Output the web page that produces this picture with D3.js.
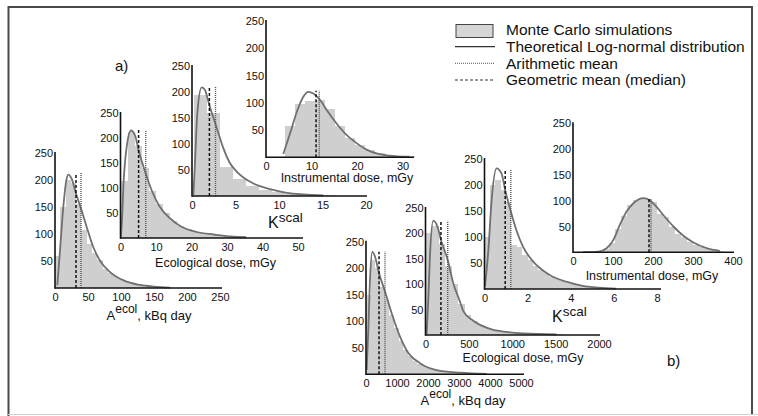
<!DOCTYPE html>
<html><head><meta charset="utf-8">
<script src="https://cdn.jsdelivr.net/npm/d3@7/dist/d3.min.js"></script>
<style>
body{margin:0;background:#fff}
svg{display:block}
text{font-family:Arial,"Liberation Sans",sans-serif;fill:#111}
</style>
</head><body>
<svg id="chart" width="758" height="416"></svg>
<script>
// ---------------- DATA ----------------
const yTickValues = [50, 100, 150, 200, 250];

// a) panels
const a1XTicks = [0, 50, 100, 150, 200, 250];
const a1Bins = {start: 0, width: 8};
const a1Counts = [60, 150, 200, 195, 155, 108, 82, 64, 52, 36, 28, 22, 16, 13, 9, 7, 5, 4, 3, 2, 2, 1];
const a1Curve = [[3.5,5],[7.6,70],[12.6,150],[16.7,196],[20.2,210],[25.3,202],[31.8,175],[39.4,147],[48,113],[58,76],[68,51],[83,30],[104,14],[129,5.6],[150,2.5],[174,0.6]];
const a1Means = {geometric: 31.8, arithmetic: 39.4, top: 213};

const a2XTicks = [0, 10, 20, 30, 40, 50];
const a2Bins = {start: 0, width: 2};
const a2Counts = [115, 212, 185, 140, 95, 68, 50, 34, 25, 18, 13, 10, 8, 6, 4, 3, 2, 1];
const a2Curve = [[0.1,2],[0.45,40],[0.85,109],[1.74,182],[2.96,215],[4.1,205],[5.12,175],[7.1,129],[8.8,95],[11.1,62],[14,39],[16.8,24],[21.5,12],[26.3,7],[31,3],[35.4,1.5]];
const a2Means = {geometric: 5.1, arithmetic: 7.1, top: 216};

const a3XTicks = [0, 5, 10, 15, 20];
const a3Bins = {start: 0.2, width: 1.5};
const a3Counts = [195, 160, 55, 33, 20, 12, 7, 4, 3, 2, 1];
const a3Curve = [[0.16,2],[0.34,63],[0.61,159],[1.11,209],[1.49,204],[1.99,175],[2.72,137],[3.22,111],[3.6,92],[4.3,65],[5.14,47],[7.05,24],[8.97,13],[10.9,6],[12.8,3],[15.1,1]];
const a3Means = {geometric: 2.0, arithmetic: 2.7, top: 210};

const a4XTicks = [0, 10, 20, 30];
const a4Bins = {start: 4.2, width: 2.2};
const a4Counts = [57, 98, 104, 106, 88, 57, 36, 22, 13, 8, 5, 3, 1.5];
const a4Curve = [[3.8,6],[5.3,44],[6.8,84],[8.2,111],[9.3,120],[10.4,117],[11.9,105],[13.3,87],[15.5,62],[17.7,41],[19.9,26],[22.1,14],[24.3,7],[27,3],[31.5,1]];
const a4Means = {geometric: 11.0, arithmetic: 11.7, top: 122};

// b) panels
const b1XTicks = [0, 1000, 2000, 3000, 4000, 5000];
const b1Bins = {start: 0, width: 150};
const b1Counts = [150, 215, 200, 165, 140, 112, 88, 62, 45, 34, 26, 20, 15, 12, 9, 7, 6, 5, 4, 3, 2, 2, 1, 1, 1];
const b1Curve = [[21,8],[75,84],[129,178],[204,231],[290,222],[419,191],[613,156],[828,115],[1097,71],[1312,45],[1742,21],[2280,8],[3030,3],[3890,0.6]];
const b1Means = {geometric: 420, arithmetic: 613, top: 231};

const b2XTicks = [0, 500, 1000, 1500, 2000];
const b2Bins = {start: 0, width: 75};
const b2Counts = [200, 215, 180, 135, 100, 62, 40, 28, 20, 14, 10, 8, 6, 5, 4, 3, 3, 2, 2, 1, 1];
const b2Curve = [[13,2],[32,69],[51,154],[90,225],[140,212],[178,187],[255,148],[320,102],[397,66],[436,47],[551,28],[743,12],[935,6],[1127,3],[1511,1]];
const b2Means = {geometric: 178, arithmetic: 256, top: 225};

const b3XTicks = [0, 2, 4, 6, 8];
const b3Bins = {start: 0, width: 0.25};
const b3Counts = [100, 200, 210, 190, 168, 85, 80, 65, 55, 45, 37, 30, 24, 19, 15, 12, 9, 7, 5, 4, 3, 2, 2, 1];
const b3Curve = [[0.02,4.5],[0.18,75],[0.33,171],[0.56,232],[0.79,222],[0.96,190],[1.22,149],[1.48,113],[1.79,81],[2.25,53],[3.02,27],[3.79,14],[4.56,6],[5.33,2.6],[6.1,0.6]];
const b3Means = {geometric: 0.96, arithmetic: 1.22, top: 230};

const b4XTicks = [0, 100, 200, 300, 400];
const b4Bins = {start: 60, width: 15};
const b4Counts = [2, 6, 18, 45, 70, 92, 102, 106, 104, 98, 75, 68, 50, 36, 30, 20, 14, 10, 6, 4, 2];
const b4Curve = [[25,0.3],[63,1.3],[84,7.8],[101,24],[117,53],[134,79],[151,95],[176,105],[192,101],[209,88],[226,72],[251,50],[276,32],[301,19],[334,8],[367,2.6]];
const b4Means = {geometric: 190, arithmetic: 195, top: 104};

const legendItems = ["Monte Carlo simulations", "Theoretical Log-normal distribution", "Arithmetic mean", "Geometric mean (median)"];

// ---------------- LAYOUT / STYLE ----------------
const FILL = "#cfcfcf", CURVE = "#707070";
const svg = d3.select("#chart");

// frame
svg.append("line").attr("x1",8).attr("x2",752).attr("y1",7).attr("y2",7).attr("stroke","#4a4a4a").attr("stroke-width",2);
svg.append("line").attr("x1",8.5).attr("x2",8.5).attr("y1",6).attr("y2",416).attr("stroke","#4a4a4a").attr("stroke-width",2);
svg.append("line").attr("x1",752).attr("x2",752).attr("y1",6).attr("y2",414).attr("stroke","#4a4a4a").attr("stroke-width",2);
svg.append("line").attr("x1",8).attr("x2",758).attr("y1",414.5).attr("y2",414.5).attr("stroke","#cfcfcf").attr("stroke-width",1);

const panels = [
  {ticks:a1XTicks, bins:a1Bins, counts:a1Counts, curve:a1Curve, means:a1Means,
   L:{x0:55, xt:220, xEnd:222, y0:288, yTop:153}, label:{type:"A", x:149, y:320}},
  {ticks:a2XTicks, bins:a2Bins, counts:a2Counts, curve:a2Curve, means:a2Means,
   L:{x0:120.5, xt:298, xEnd:303, y0:238, yTop:113}, label:{type:"text", text:"Ecological dose, mGy", x:215.5, y:267}},
  {ticks:a3XTicks, bins:a3Bins, counts:a3Counts, curve:a3Curve, means:a3Means,
   L:{x0:192, xt:366, xEnd:367, y0:196, yTop:66}, label:{type:"K", x:268, y:228}},
  {ticks:a4XTicks, bins:a4Bins, counts:a4Counts, curve:a4Curve, means:a4Means,
   L:{x0:266, xt:402.5, xEnd:414, y0:157.3, yTop:21}, label:{type:"text", text:"Instrumental dose, mGy", x:347, y:182}},
  {ticks:b1XTicks, bins:b1Bins, counts:b1Counts, curve:b1Curve, means:b1Means,
   L:{x0:366, xt:521, xEnd:524, y0:374.3, yTop:241.7}, label:{type:"A", x:463, y:405}},
  {ticks:b2XTicks, bins:b2Bins, counts:b2Counts, curve:b2Curve, means:b2Means,
   L:{x0:425.5, xt:599, xEnd:600, y0:335, yTop:208}, label:{type:"text", text:"Ecological dose, mGy", x:523, y:361.5}},
  {ticks:b3XTicks, bins:b3Bins, counts:b3Counts, curve:b3Curve, means:b3Means,
   L:{x0:484.5, xt:657, xEnd:661, y0:289, yTop:159}, label:{type:"K", x:552, y:321.5}},
  {ticks:b4XTicks, bins:b4Bins, counts:b4Counts, curve:b4Curve, means:b4Means,
   L:{x0:573, xt:733, xEnd:734, y0:252.3, yTop:123.3}, label:{type:"text", text:"Instrumental dose, mGy", x:652, y:280}}
];

function drawPanel(p) {
  const L = p.L;
  const g = svg.append("g");
  const x = d3.scaleLinear().domain([0, d3.max(p.ticks)]).range([L.x0, L.xt]);
  const y = d3.scaleLinear().domain([0, 250]).range([L.y0, L.yTop]);
  const edge = i => Math.round(x(p.bins.start + i*p.bins.width));

  // histogram bars (pixel-snapped so neighbouring bars abut without seams)
  g.append("g").attr("shape-rendering","crispEdges")
    .selectAll("rect").data(p.counts).join("rect")
    .attr("x", (d,i) => edge(i))
    .attr("width", (d,i) => Math.max(1, edge(i+1) - edge(i)))
    .attr("y", d => Math.round(y(d)))
    .attr("height", d => Math.round(y(0)) - Math.round(y(d)))
    .attr("fill", FILL);

  // theoretical curve
  const line = d3.line().x(d => x(d[0])).y(d => y(d[1])).curve(d3.curveMonotoneX);
  g.append("path").datum(p.curve).attr("d", line)
    .attr("fill","none").attr("stroke",CURVE).attr("stroke-width",1.8);

  // means
  g.append("line").attr("x1", x(p.means.arithmetic)).attr("x2", x(p.means.arithmetic))
    .attr("y1", y(0)).attr("y2", y(p.means.top))
    .attr("stroke","#555").attr("stroke-width",1.4).attr("stroke-dasharray","1,1");
  g.append("line").attr("x1", x(p.means.geometric)).attr("x2", x(p.means.geometric))
    .attr("y1", y(0)).attr("y2", y(p.means.top))
    .attr("stroke","#111").attr("stroke-width",1.5).attr("stroke-dasharray","3,2");

  // axes
  const xa = g.append("g").attr("transform", `translate(0,${L.y0})`)
    .call(d3.axisBottom(x).tickValues(p.ticks).tickSize(0).tickPadding(5).tickFormat(d3.format("d")));
  xa.select(".domain").remove();
  xa.selectAll("text").attr("font-size", 11).attr("font-family", "Arial, 'Liberation Sans', sans-serif").attr("fill","#111");
  const ya = g.append("g").attr("transform", `translate(${L.x0},0)`)
    .call(d3.axisLeft(y).tickValues(yTickValues).tickSize(0).tickPadding(2));
  ya.select(".domain").remove();
  ya.selectAll("text").attr("font-size", 11).attr("font-family", "Arial, 'Liberation Sans', sans-serif").attr("fill","#111");

  g.append("line").attr("x1", L.x0).attr("x2", L.xEnd).attr("y1", L.y0).attr("y2", L.y0)
    .attr("stroke","#111").attr("stroke-width",1.6);
  g.append("line").attr("x1", L.x0).attr("x2", L.x0).attr("y1", L.y0 + 0.8).attr("y2", L.yTop - 1)
    .attr("stroke","#111").attr("stroke-width",1.6);

  // axis title
  const lb = p.label;
  if (lb.type === "text") {
    g.append("text").attr("x", lb.x).attr("y", lb.y).attr("text-anchor","middle")
      .attr("font-size", 12.5).text(lb.text);
  } else if (lb.type === "A") {
    const t = g.append("text").attr("x", lb.x).attr("y", lb.y).attr("text-anchor","middle").attr("font-size", 13);
    t.append("tspan").text("A");
    t.append("tspan").attr("dy", -7).attr("font-size", 12).text("ecol");
    t.append("tspan").attr("dy", 7).text(", kBq day");
  } else {
    const t = g.append("text").attr("x", lb.x).attr("y", lb.y).attr("font-size", 16);
    t.append("tspan").text("K");
    t.append("tspan").attr("dy", -6).attr("font-size", 13.5).text("scal");
  }
}

panels.forEach(drawPanel);

// panel letters
svg.append("text").attr("x",115).attr("y",71).attr("font-size",15).text("a)");
svg.append("text").attr("x",667).attr("y",366).attr("font-size",15).text("b)");

// legend
const lg = svg.append("g");
const rowY = [30, 46.7, 63.3, 80];
lg.append("rect").attr("x",456).attr("y",24.5).attr("width",37).attr("height",13)
  .attr("fill","#d6d6d6").attr("stroke","#444").attr("stroke-width",1);
lg.append("line").attr("x1",455).attr("x2",495).attr("y1",rowY[1]).attr("y2",rowY[1]).attr("stroke","#333").attr("stroke-width",1.2);
lg.append("line").attr("x1",455).attr("x2",495).attr("y1",rowY[2]).attr("y2",rowY[2]).attr("stroke","#555").attr("stroke-width",1).attr("stroke-dasharray","1,1");
lg.append("line").attr("x1",455).attr("x2",495).attr("y1",rowY[3]).attr("y2",rowY[3]).attr("stroke","#333").attr("stroke-width",1.2).attr("stroke-dasharray","3,2");
lg.selectAll("text.leg").data(legendItems).join("text").attr("class","leg")
  .attr("x",506).attr("y",(d,i)=>rowY[i]).attr("dy","0.35em").attr("font-size",15.5).text(d=>d);
</script>
</body></html>
